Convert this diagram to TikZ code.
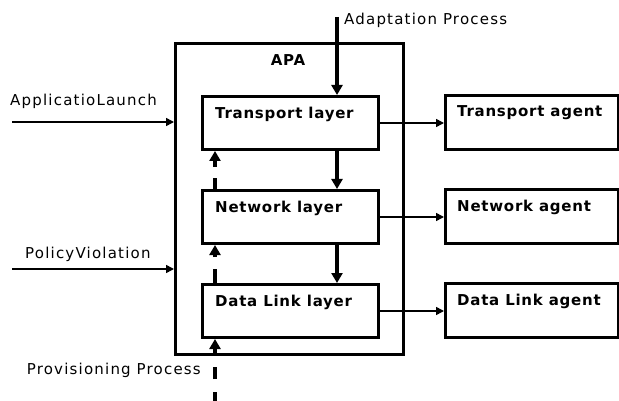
\documentclass[tikz,border=0pt]{standalone}
\usepackage{fontspec}
\setmainfont{DejaVu Sans}
\usetikzlibrary{arrows.meta}
\begin{document}
\begin{tikzpicture}[x=1pt,y=-1pt,
  layerbox/.style={draw, line width=3pt, minimum width=176pt, minimum height=53pt, inner sep=0pt, anchor=north west},
  agentbox/.style={draw, line width=3pt, minimum width=173pt, minimum height=54pt, inner sep=0pt, anchor=north west},
  apabox/.style={draw, line width=3pt, minimum width=228pt, minimum height=311pt, inner sep=0pt, anchor=north west},
  boldfont/.style={font=\fontsize{15}{17}\selectfont\bfseries\addfontfeature{LetterSpace=5}},
  boldlbl/.style={boldfont, inner sep=0pt, anchor=west},
  plainlbl/.style={font=\fontsize{15}{17}\selectfont\addfontfeature{LetterSpace=8}, inner sep=0pt},
  thinarrow/.style={line width=1.6pt, -{Triangle[length=8pt,width=8pt]}},
  thickarrow/.style={line width=4pt, -{Triangle[length=10pt,width=11pt]}},
  dasharrow/.style={line width=4pt, -{Triangle[length=10pt,width=11pt]}},
]
\useasboundingbox (0,0) rectangle (619,401);

% APA container
\node[apabox] (apa) at (174,42) {};
\node[boldfont, inner sep=0pt] (apatitle) at (288,60) {APA};

% layers
\node[layerbox] (tl) at (201,95) {};
\node[layerbox] (nl) at (201,189) {};
\node[layerbox] (dl) at (201,283) {};
\node[boldlbl] (tltext) at ([xshift=14pt,yshift=-19pt]tl.north west) {Transport layer};
\node[boldlbl] (nltext) at ([xshift=14pt,yshift=-19pt]nl.north west) {Network layer};
\node[boldlbl] (dltext) at ([xshift=14pt,yshift=-19pt]dl.north west) {Data Link layer};

% agents
\node[agentbox] (ta) at (444,94) {};
\node[agentbox] (na) at (444,188) {};
\node[agentbox] (da) at (444,282) {};
\node[boldlbl] (tatext) at ([xshift=13pt,yshift=-19pt]ta.north west) {Transport agent};
\node[boldlbl] (natext) at ([xshift=13pt,yshift=-19pt]na.north west) {Network agent};
\node[boldlbl] (datext) at ([xshift=13pt,yshift=-19pt]da.north west) {Data Link agent};

% layer -> agent arrows
\draw[thinarrow] (tl.east) -- (ta.west |- tl.east);
\draw[thinarrow] (nl.east) -- (na.west |- nl.east);
\draw[thinarrow] (dl.east) -- (da.west |- dl.east);

% adaptation process
\coordinate (adtop) at (337,17);
\draw[thickarrow] (adtop) -- (adtop |- tl.north);
\node[plainlbl, anchor=west] (adtext) at (344,20) {Adaptation Process};
\coordinate (downx) at (337,0);
\draw[thickarrow] (downx |- tl.south) -- (downx |- nl.north);
\draw[thickarrow] (downx |- nl.south) -- (downx |- dl.north);

% provisioning process
\coordinate (provbot) at (215,401);
\draw[dasharrow, dash pattern=on 12pt off 13pt, dash phase=3pt] (provbot) -- (provbot |- dl.south);
\draw[dasharrow, dash pattern=on 14pt off 12pt on 40pt off 1pt] (provbot |- dl.north) -- (provbot |- nl.south);
\draw[dasharrow, dash pattern=on 11pt off 11pt on 40pt off 1pt] (provbot |- nl.north) -- (provbot |- tl.south);
\node[plainlbl, anchor=east] (provtext) at (201,370) {Provisioning Process};

% left inputs
\coordinate (applstart) at (12,122);
\draw[thinarrow] (applstart) -- (apa.west |- applstart);
\node[plainlbl, anchor=west] (appltext) at (10,101) {ApplicatioLaunch};
\coordinate (polstart) at (12,269);
\draw[thinarrow] (polstart) -- (apa.west |- polstart);
\node[plainlbl, anchor=west] (poltext) at (25,254) {PolicyViolation};
\end{tikzpicture}
\end{document}
